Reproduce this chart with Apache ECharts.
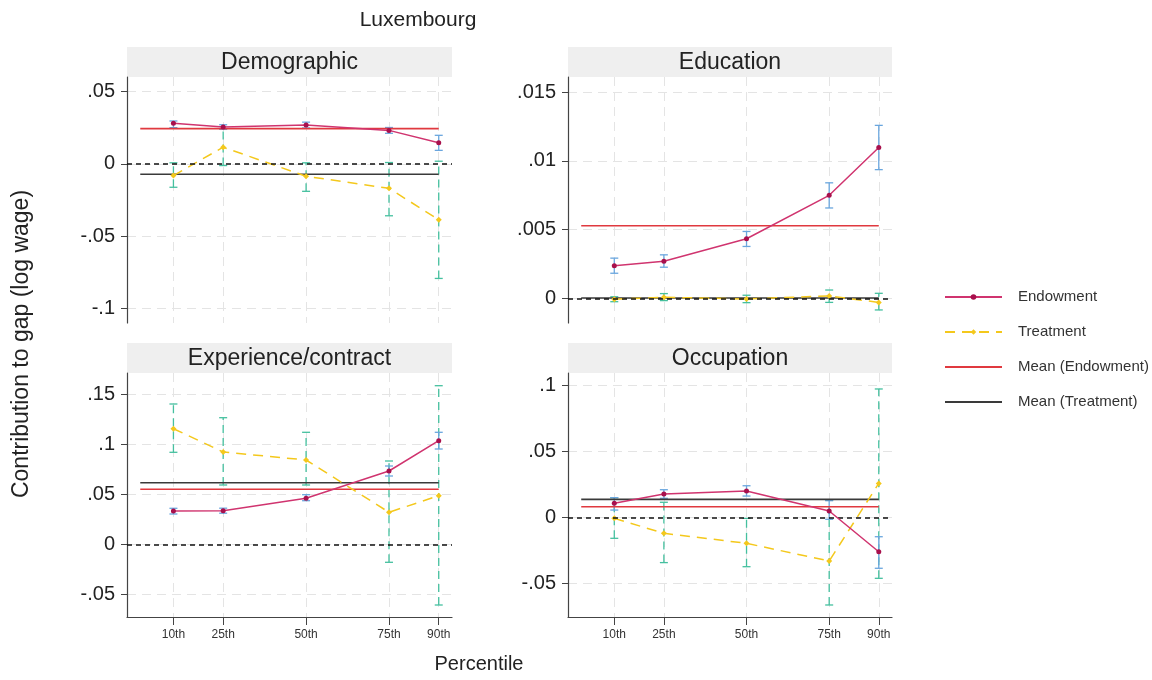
<!DOCTYPE html>
<html>
<head>
<meta charset="utf-8">
<title>Luxembourg</title>
<script src="https://cdn.jsdelivr.net/npm/echarts@6/dist/echarts.min.js"></script>
<style>
  html, body { margin: 0; padding: 0; background: #fff; }
  #chart { width: 1152px; height: 680px; }
</style>
</head>
<body>
<div id="chart"></div>
<script>
// Percentile positions and their labels
const percentiles = [10, 25, 50, 75, 90];
const percentileLabels = ['10th', '25th', '50th', '75th', '90th'];
const panelTitles = ['Demographic', 'Education', 'Experience/contract', 'Occupation'];

// Demographic
const demoEndow   = [0.0280, 0.0254, 0.0268, 0.0231, 0.0146];
const demoEndowLo = [0.0250, 0.0238, 0.0248, 0.0211, 0.0093];
const demoEndowHi = [0.0296, 0.0270, 0.0288, 0.0251, 0.0197];
const demoTreat   = [-0.0081, 0.0115, -0.0086, -0.0169, -0.0387];
const demoTreatLo = [-0.0162, -0.0012, -0.0190, -0.0359, -0.0792];
const demoTreatHi = [0.0007, 0.0243, 0.0007, 0.0009, 0.0018];
const demoMeans   = [0.0243, -0.0072];

// Education
const eduEndow   = [0.00236, 0.00270, 0.00433, 0.00749, 0.01097];
const eduEndowLo = [0.00182, 0.00226, 0.00377, 0.00657, 0.00936];
const eduEndowHi = [0.00292, 0.00316, 0.00486, 0.00840, 0.01258];
const eduTreat   = [-0.00007, 0.00007, -0.00005, 0.00017, -0.00030];
const eduTreatLo = [-0.00025, -0.00017, -0.00032, -0.00030, -0.00085];
const eduTreatHi = [0.00011, 0.00034, 0.00022, 0.00060, 0.00036];
const eduMeans   = [0.00528, 0.00002];

// Experience/contract
const expEndow   = [0.0333, 0.0336, 0.0460, 0.0733, 0.1036];
const expEndowLo = [0.0303, 0.0311, 0.0436, 0.0683, 0.0953];
const expEndowHi = [0.0360, 0.0361, 0.0496, 0.0783, 0.1120];
const expTreat   = [0.1156, 0.0923, 0.0843, 0.0320, 0.0486];
const expTreatLo = [0.0920, 0.0593, 0.0593, -0.0180, -0.0607];
const expTreatHi = [0.1403, 0.1266, 0.1120, 0.0833, 0.1586];
const expMeans   = [0.0550, 0.0616];

// Occupation
const occEndow   = [0.0109, 0.0180, 0.0202, 0.0051, -0.0258];
const occEndowLo = [0.0058, 0.0147, 0.0164, -0.0012, -0.0383];
const occEndowHi = [0.0152, 0.0212, 0.0242, 0.0129, -0.0144];
const occTreat   = [-0.0005, -0.0118, -0.0194, -0.0328, 0.0260];
const occTreatLo = [-0.0156, -0.0340, -0.0371, -0.0661, -0.0459];
const occTreatHi = [0.0152, 0.0117, -0.0005, 0.0134, 0.0975];
const occMeans   = [0.0083, 0.0139];

// Y tick values per panel
const yTicks = [
  [-0.1, -0.05, 0, 0.05],
  [0, 0.005, 0.01, 0.015],
  [-0.05, 0, 0.05, 0.1, 0.15],
  [-0.05, 0, 0.05, 0.1]
];
const yRanges = [[-0.11, 0.06], [-0.0018, 0.0161], [-0.0727, 0.1713], [-0.0752, 0.1096]];
const meanSpan = [0, 90];

const panels = [
  { endow: demoEndow, lo: demoEndowLo, hi: demoEndowHi, treat: demoTreat, tlo: demoTreatLo, thi: demoTreatHi, means: demoMeans },
  { endow: eduEndow, lo: eduEndowLo, hi: eduEndowHi, treat: eduTreat, tlo: eduTreatLo, thi: eduTreatHi, means: eduMeans },
  { endow: expEndow, lo: expEndowLo, hi: expEndowHi, treat: expTreat, tlo: expTreatLo, thi: expTreatHi, means: expMeans },
  { endow: occEndow, lo: occEndowLo, hi: occEndowHi, treat: occTreat, tlo: occTreatLo, thi: occTreatHi, means: occMeans }
];

const FONT = 'Liberation Sans, Arial, sans-serif';
const C = {
  endowLine: '#d0346f',
  endowMark: '#a8104c',
  endowCI: '#6aa6de',
  treatLine: '#f4c81c',
  treatCI: '#45c09f',
  meanEndow: '#e0393f',
  meanTreat: '#3a3a3a',
  grid: '#e4e4e4',
  axis: '#444',
  text: '#222'
};

const gridBoxes = [
  { left: 127, top: 77, width: 325, height: 246 },
  { left: 568, top: 77, width: 324, height: 246 },
  { left: 127, top: 373, width: 325, height: 244 },
  { left: 568, top: 373, width: 324, height: 244 }
];

function fmtTick(v) {
  return String(v).replace(/^(-?)0\./, '$1.');
}

function errorBars(color, dashed) {
  return function (params, api) {
    const x = api.value(0);
    const lo = api.coord([x, api.value(1)]);
    const hi = api.coord([x, api.value(2)]);
    const half = 4;
    const stemStyle = { stroke: color, lineWidth: 1.3, lineDash: dashed ? [8, 5] : null, fill: null };
    const capStyle = { stroke: color, lineWidth: 1.3, fill: null };
    return {
      type: 'group',
      children: [
        { type: 'line', shape: { x1: lo[0], y1: lo[1], x2: hi[0], y2: hi[1] }, style: stemStyle },
        { type: 'line', shape: { x1: lo[0] - half, y1: lo[1], x2: lo[0] + half, y2: lo[1] }, style: capStyle },
        { type: 'line', shape: { x1: hi[0] - half, y1: hi[1], x2: hi[0] + half, y2: hi[1] }, style: capStyle }
      ]
    };
  };
}

const grids = gridBoxes.map(b => Object.assign({ containLabel: false }, b));

const xAxes = gridBoxes.map((b, i) => {
  const bottom = i >= 2;
  return {
    type: 'value', gridIndex: i, min: -4, max: 94,
    axisLine: { show: bottom, onZero: false, lineStyle: { color: C.axis, width: 1.2 } },
    axisTick: { show: bottom, length: 8, customValues: percentiles, lineStyle: { color: C.axis } },
    axisLabel: {
      show: bottom, customValues: percentiles, margin: 12,
      fontFamily: FONT, fontSize: 12, color: '#333',
      formatter: v => percentileLabels[percentiles.indexOf(v)]
    },
    splitLine: { show: true, lineStyle: { color: C.grid, type: [9, 6], width: 1 } }
  };
});

const yAxes = gridBoxes.map((b, i) => ({
  type: 'value', gridIndex: i, min: yRanges[i][0], max: yRanges[i][1],
  axisLine: { show: true, onZero: false, lineStyle: { color: C.axis, width: 1.2 } },
  axisTick: { show: true, length: 6, customValues: yTicks[i], lineStyle: { color: C.axis } },
  axisLabel: {
    customValues: yTicks[i], margin: 12,
    fontFamily: FONT, fontSize: 20, color: C.text,
    formatter: fmtTick
  },
  splitLine: { show: true, lineStyle: { color: C.grid, type: [9, 6], width: 1 } }
}));

const series = [];
panels.forEach((p, i) => {
  const ax = { xAxisIndex: i, yAxisIndex: i };
  series.push(Object.assign({
    type: 'custom', name: 'Treatment CI', silent: true, z: 2,
    renderItem: errorBars(C.treatCI, true),
    encode: { x: 0, y: [1, 2] },
    data: percentiles.map((x, k) => [x, p.tlo[k], p.thi[k]])
  }, ax));
  series.push(Object.assign({
    type: 'custom', name: 'Endowment CI', silent: true, z: 2,
    renderItem: errorBars(C.endowCI, false),
    encode: { x: 0, y: [1, 2] },
    data: percentiles.map((x, k) => [x, p.lo[k], p.hi[k]])
  }, ax));
  series.push(Object.assign({
    type: 'line', name: 'Mean (Endowment)', symbol: 'none', silent: true, z: 3,
    lineStyle: { color: C.meanEndow, width: 1.6 }, itemStyle: { color: C.meanEndow },
    data: meanSpan.map(x => [x, p.means[0]]),
    markLine: {
      silent: true, symbol: 'none', label: { show: false },
      lineStyle: { color: '#111', type: [5, 4], width: 1.6 },
      data: [{ yAxis: 0 }]
    }
  }, ax));
  series.push(Object.assign({
    type: 'line', name: 'Mean (Treatment)', symbol: 'none', silent: true, z: 3,
    lineStyle: { color: C.meanTreat, width: 1.6 }, itemStyle: { color: C.meanTreat },
    data: meanSpan.map(x => [x, p.means[1]])
  }, ax));
  series.push(Object.assign({
    type: 'line', name: 'Treatment', symbol: 'diamond', symbolSize: 6, z: 4,
    lineStyle: { color: C.treatLine, width: 1.5, type: [10, 7] },
    itemStyle: { color: C.treatLine },
    data: percentiles.map((x, k) => [x, p.treat[k]])
  }, ax));
  series.push(Object.assign({
    type: 'line', name: 'Endowment', symbol: 'circle', symbolSize: 5, z: 5,
    lineStyle: { color: C.endowLine, width: 1.5 },
    itemStyle: { color: C.endowMark },
    data: percentiles.map((x, k) => [x, p.endow[k]])
  }, ax));
});

// Panel header strips and overall labels
const graphics = [];
gridBoxes.forEach((b, i) => {
  graphics.push({
    type: 'rect', silent: true,
    shape: { x: b.left, y: b.top - 30, width: b.width, height: 30 },
    style: { fill: '#efefef' }
  });
  graphics.push({
    type: 'text', silent: true,
    x: b.left + b.width / 2, y: b.top - 14,
    style: { text: panelTitles[i], font: '23px ' + FONT, fill: C.text, align: 'center', verticalAlign: 'middle' }
  });
});
graphics.push({
  type: 'text', silent: true, x: 418, y: 20,
  style: { text: 'Luxembourg', font: '21px ' + FONT, fill: C.text, align: 'center', verticalAlign: 'middle' }
});
graphics.push({
  type: 'text', silent: true, x: 479, y: 664,
  style: { text: 'Percentile', font: '20px ' + FONT, fill: C.text, align: 'center', verticalAlign: 'middle' }
});
graphics.push({
  type: 'text', silent: true, x: 22, y: 344, rotation: Math.PI / 2,
  style: { text: 'Contribution to gap (log wage)', font: '23px ' + FONT, fill: C.text, align: 'center', verticalAlign: 'middle' }
});

const chart = echarts.init(document.getElementById('chart'), null, { renderer: 'canvas' });
chart.setOption({
  animation: false,
  backgroundColor: '#fff',
  grid: grids,
  xAxis: xAxes,
  yAxis: yAxes,
  legend: {
    orient: 'vertical', left: 939, top: 283,
    itemWidth: 57, itemHeight: 7, itemGap: 17,
    data: [
      { name: 'Endowment' },
      { name: 'Treatment' },
      { name: 'Mean (Endowment)', itemStyle: { opacity: 0 } },
      { name: 'Mean (Treatment)', itemStyle: { opacity: 0 } }
    ],
    textStyle: { fontFamily: FONT, fontSize: 15, color: '#333', lineHeight: 18, padding: [0, 0, 0, 11] },
    selectedMode: false
  },
  graphic: graphics,
  series: series
});
</script>
</body>
</html>
